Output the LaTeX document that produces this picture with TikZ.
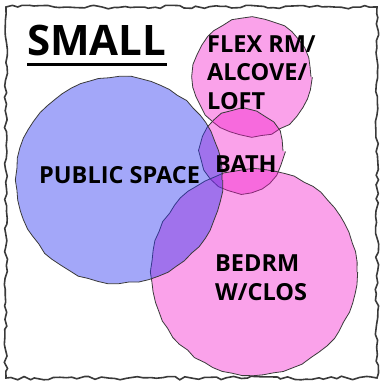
\documentclass[tikz,border=0pt]{standalone}
\usepackage{fontspec}
\setmainfont{Open Sans}
\usetikzlibrary{decorations.pathmorphing}
\definecolor{roompink}{RGB}{242,22,202}
\definecolor{roomblue}{RGB}{45,55,241}
\definecolor{inkgray}{HTML}{3A3A3A}

\begin{document}
\begin{tikzpicture}[x=1pt,y=-1pt,
  room/.style={circle,draw=inkgray,line width=0.8pt,fill opacity=0.4,inner sep=0pt,
    decorate,decoration={random steps,segment length=10pt,amplitude=1pt}},
  lbl/.style={font=\bfseries\fontsize{23.5}{28.5}\selectfont,inner sep=0pt,anchor=base west,align=left}]
  \pgfmathsetseed{11}
  \useasboundingbox (0,0) rectangle (380,381);
  \draw[inkgray,line width=1.6pt,decorate,decoration={random steps,segment length=6pt,amplitude=1.8pt}]
    (6,7) rectangle (377,378);
  \node[room,fill=roompink,minimum size=118pt] (flex) at (252,77) {};
  \node[room,fill=roompink,minimum size=82pt] (bath) at (242,151) {};
  \node[room,fill=roompink,minimum size=206pt] (bedrm) at (254,272) {};
  \node[room,fill=roomblue,fill opacity=0.44,minimum size=206pt] (public) at (119,180) {};
  \node[lbl,font=\bfseries\fontsize{42}{48}\selectfont] (small) at (27,55) {SMALL};
  \draw[line width=3pt] ([yshift=-9pt]small.base west) -- ([yshift=-9pt]small.base east);
  \node[lbl] (flexlbl) at (207,109) {FLEX RM/\\ALCOVE/\\LOFT};
  \node[lbl] (publiclbl) at (39,183) {PUBLIC SPACE};
  \node[lbl] (bathlbl) at (215,172) {BATH};
  \node[lbl] (bedrmlbl) at (215,300) {BEDRM\\W/CLOS};
\end{tikzpicture}
\end{document}
